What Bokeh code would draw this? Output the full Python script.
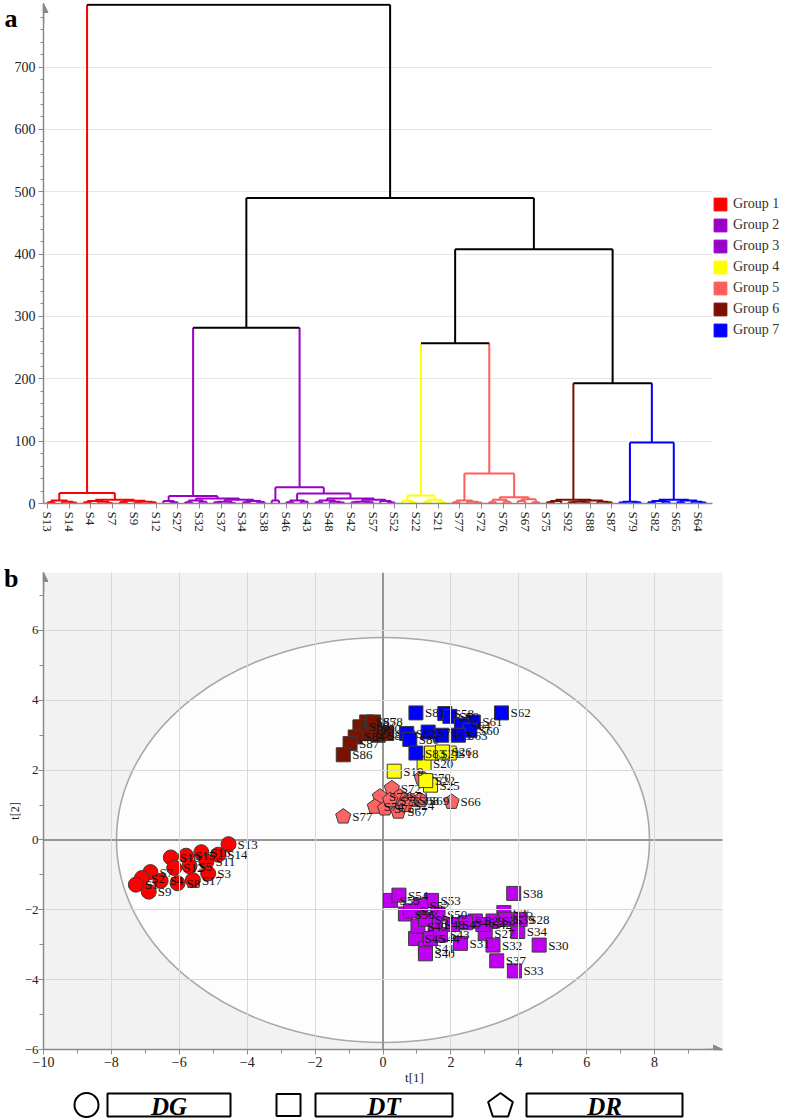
import math
from bokeh.plotting import figure
from bokeh.models import (Range1d, FixedTicker, Legend, LegendItem, Arrow,
                          NormalHead, LinearAxis)
from bokeh.layouts import column
from bokeh.embed import file_html
from bokeh.resources import INLINE
from bokeh.core.properties import value

SERIF = "Liberation Serif"
AXIS_GREY = "#8a8a8a"
LABEL_COL = "#222222"
NAN = float("nan")

# ====================== panel a : dendrogram data ======================
group_names = ["Group 1", "Group 2", "Group 3", "Group 4", "Group 5", "Group 6", "Group 7"]
group_colors = ["#ff0000", "#9b00c8", "#9b00c8", "#ffff00", "#ff5c5c", "#7b1000", "#0000ff"]
n_leaves = 92
tick_step = 3
leaf_tick_labels = ["S13", "S14", "S4", "S7", "S9", "S12", "S27", "S32", "S37", "S34", "S38",
                    "S46", "S43", "S48", "S42", "S57", "S52", "S22", "S21", "S77", "S72",
                    "S76", "S67", "S75", "S92", "S88", "S87", "S79", "S82", "S65", "S64"]
y_ticks_a = [0, 100, 200, 300, 400, 500, 600, 700]

# sub-trees per group: [merge height, left, right]; leaves are leaf indices
tree_g1 = [17, [5, [2, 0, 1], [3, 2, [1.5, 3, 4]]],
               [6, [4, [2, 5, 6], [3, 7, [1, 8, 9]]],
                   [4.5, [2.5, 10, 11], [3, [1.5, 12, 13], [2, 14, 15]]]]]
tree_g2 = [12, [4, 16, [2, 17, 18]],
               [8, [5, [2, 19, 20], [3, 21, 22]],
                   [6, [3, [2, 23, 24], [1, 25, 26]], [4, [2, 27, 28], [2.5, 29, 30]]]]]
tree_g3 = [26, [5, 31, 32],
               [16, [5, [2, 33, 34], [3, 35, 36]],
                    [8, [5, [2, 37, 38], [3, 39, [1.5, 40, 41]]],
                        [6, [3, [2, 42, 43], [2, 44, 45]], [4, 46, [1.5, 47, 48]]]]]]
tree_g4 = [13, [4, 49, [2, 50, 51]], [6, [3, 52, 53], [2, 54, 55]]]
tree_g5 = [48, [5, [2, 56, 57], [3, 58, [1.5, 59, 60]]],
               [10, [6, [2, 61, 62], [3, 63, 64]], [7, [4, 65, 66], [2, 67, 68]]]]
tree_g6 = [6, [4, [2, 69, 70], 71],
              [5, [3, [2, 72, 73], [1.5, 74, 75]], [3, 76, [2, 77, 78]]]]
tree_g7 = [98, [3, [1.5, 79, 80], [2, 81, 82]],
               [6, [4, [2, 83, 84], [3, 85, 86]], [5, [2, 87, 88], [3, 89, [1.5, 90, 91]]]]]

# between-group joins (black)
h_g2_g3 = 282
h_g4_g5 = 257
h_g6_g7 = 193
h_g45_g67 = 408
h_mid = 490
h_root = 800

full_tree = [h_root, ("G", 0, tree_g1),
             [h_mid, [h_g2_g3, ("G", 1, tree_g2), ("G", 2, tree_g3)],
                     [h_g45_g67, [h_g4_g5, ("G", 3, tree_g4), ("G", 4, tree_g5)],
                                 [h_g6_g7, ("G", 5, tree_g6), ("G", 6, tree_g7)]]]]

# ====================== panel b : score plot data ======================
g1_x = [-4.55, -4.85, -5.35, -5.2, -5.8, -6.25, -6.15, -5.7, -5.15, -6.85, -7.1, -7.28, -6.9, -6.55, -6.05, -5.6]
g1_y = [-0.12, -0.42, -0.35, -0.62, -0.45, -0.5, -0.8, -0.75, -0.96, -0.92, -1.09, -1.28, -1.48, -1.17, -1.24, -1.15]
g1_n = ["S13", "S14", "S16", "S11", "S15", "S10", "S12", "S5", "S3", "S7", "S2", "S1", "S9", "S4", "S8", "S17"]
g23_x = [3.85, 0.22, 0.47, 1.43, 1.10, 0.66, 1.62, 3.56, 2.72, 3.24, 3.97, 3.01, 4.60, 3.24, 2.28, 3.35,
         3.87, 0.96, 1.25, 1.25, 1.03, 1.54, 2.06, 2.43, 1.40, 1.69, 3.60, 0.81, 1.25, 2.94, 4.04]
g23_y = [-1.53, -1.73, -1.58, -1.73, -1.88, -2.12, -2.12, -2.08, -2.32, -2.32, -2.62, -2.67, -3.01, -3.01, -2.96, -3.46,
         -3.75, -2.82, -3.11, -3.26, -2.47, -2.42, -2.42, -2.37, -2.82, -2.72, -2.27, -2.03, -2.27, -2.42, -2.27]
g23_n = ["S38", "S55", "S54", "S53", "S52", "S56", "S50", "S35", "S29", "S36", "S34", "S27", "S30", "S32", "S31", "S37",
         "S33", "S45", "S41", "S40", "S49", "S48", "S47", "S46", "S44", "S43", "S39", "S57", "S51", "S42", "S28"]
g4_x = [0.33, 1.21, 1.43, 1.95, 1.40, 1.26, 1.75]
g4_y = [1.97, 2.19, 2.49, 2.49, 1.57, 1.70, 2.52]
g4_n = ["S19", "S20", "S21", "S18", "S25", "S22", "S26"]
g5_x = [-1.17, 2.02, 1.14, 0.26, -0.09, 0.50, -0.24, 0.06, 0.45, 1.09, 0.79, 0.21, 0.65]
g5_y = [0.67, 1.09, 1.78, 1.48, 1.24, 1.24, 0.95, 0.90, 0.81, 1.14, 1.14, 1.14, 1.00]
g5_n = ["S77", "S66", "S70", "S72", "S73", "S71", "S74", "S75", "S67", "S69", "S68", "S76", "S24"]
g6_x = [-0.48, -0.68, -0.33, -0.48, -0.82, -0.97, -1.17, -0.14, 0.11, -0.28]
g6_y = [3.38, 3.24, 3.19, 3.05, 2.95, 2.76, 2.44, 3.00, 3.05, 3.38]
g6_n = ["S85", "S89", "S90", "S91", "S84", "S87", "S86", "S88", "S92", "S78"]
g7_x = [0.97, 1.82, 1.97, 3.49, 2.66, 2.31, 2.56, 1.33, 1.73, 2.22, 0.70, 0.79, 0.97]
g7_y = [3.64, 3.62, 3.54, 3.64, 3.38, 3.29, 3.14, 3.09, 3.00, 3.00, 3.05, 2.88, 2.49]
g7_n = ["S81", "S58", "S59", "S62", "S61", "S64", "S60", "S79", "S65", "S63", "S82", "S80", "S83"]

scatter_colors = {"g1": "#ff0000", "g23": "#c000f0", "g4": "#ffff00", "g5": "#ff6464",
                  "g6": "#7a1200", "g7": "#0000ff"}
hotelling_rx = 7.85
hotelling_ry = 5.8
x_ticks_b = [-10, -8, -6, -4, -2, 0, 2, 4, 6, 8]
y_ticks_b = [-6, -4, -2, 0, 2, 4, 6]

legend_b_labels = ["DG", "DT", "DR"]

# ---------------- shared layout ----------------
FIG_W = 785
FRAME_L = 43            # all three frames share left/right edges (column alignment)


def style_axis(ax, fs):
    ax.axis_line_color = AXIS_GREY
    ax.axis_line_width = 1.5
    ax.major_tick_line_color = AXIS_GREY
    ax.minor_tick_line_color = AXIS_GREY
    ax.major_tick_out = 5
    ax.major_tick_in = 0
    ax.minor_tick_out = 3
    ax.minor_tick_in = 0
    ax.major_label_text_font = SERIF
    ax.major_label_text_font_size = fs
    ax.major_label_text_color = LABEL_COL


def panel_letter_axis(tick, letter, standoff):
    return LinearAxis(ticker=FixedTicker(ticks=[tick], minor_ticks=[]),
                      major_label_overrides={tick: letter},
                      axis_line_color=None, major_tick_line_color=None,
                      minor_tick_line_color=None, major_tick_out=0, major_tick_in=0,
                      minor_tick_out=0, minor_tick_in=0,
                      major_label_standoff=standoff, major_label_text_font=SERIF,
                      major_label_text_font_style="bold", major_label_text_font_size="26px",
                      major_label_text_color="black")


# ====================== figure a ======================
FA_H = 560
A_TOP, A_BOTTOM = 3, 57
leaf_px = 7.235                      # pixels per leaf slot
leaf0_px = 47                        # page x of first leaf
xa0 = -(leaf0_px - FRAME_L) / leaf_px
xa1 = (FIG_W - leaf0_px) / leaf_px
xa_axis_end = 91.9                   # where the dendrogram axis stops (page x ~712)
pa = figure(width=FIG_W, height=FA_H, output_backend="svg", toolbar_location=None,
            x_range=Range1d(xa0, xa1), y_range=Range1d(0, 802),
            min_border_left=FRAME_L, min_border_right=0,
            min_border_top=A_TOP, min_border_bottom=A_BOTTOM)
pa.outline_line_color = None
pa.background_fill_color = "white"

segs = {"x0": [], "y0": [], "x1": [], "y1": [], "c": []}


def add_seg(x0, y0, x1, y1, c):
    segs["x0"].append(x0)
    segs["y0"].append(y0)
    segs["x1"].append(x1)
    segs["y1"].append(y1)
    segs["c"].append(c)


def walk(node, color):
    if isinstance(node, tuple):
        _, gi, sub = node
        return walk(sub, group_colors[gi])
    if isinstance(node, int):
        return float(node), 0.0, color
    h, left, right = node
    xl, hl, cl = walk(left, color)
    xr, hr, cr = walk(right, color)
    add_seg(xl, hl, xl, h, cl)
    add_seg(xr, hr, xr, h, cr)
    add_seg(xl, h, xr, h, color)
    return (xl + xr) / 2.0, h, color


walk(full_tree, "#000000")
pa.segment(x0="x0", y0="y0", x1="x1", y1="y1", line_color="c", line_width=2, source=segs)

tick_idx = list(range(0, n_leaves, tick_step))
pa.xaxis.ticker = FixedTicker(ticks=tick_idx, minor_ticks=[])
pa.xaxis.major_label_overrides = {t: lab for t, lab in zip(tick_idx, leaf_tick_labels)}
pa.xaxis.major_label_orientation = -math.pi / 2
pa.xaxis.bounds = (xa0, xa_axis_end)
pa.yaxis.ticker = FixedTicker(ticks=y_ticks_a, minor_ticks=list(range(20, 800, 20)))
style_axis(pa.xaxis[0], "13px")
style_axis(pa.yaxis[0], "14px")
pa.xaxis.major_label_standoff = 3
pa.yaxis.major_label_standoff = 3
pa.xgrid.visible = False
pa.ygrid.ticker = FixedTicker(ticks=y_ticks_a[1:])
pa.ygrid.cross_bounds = (xa0, xa_axis_end)
pa.ygrid.grid_line_color = "#e6e6e6"

pa.add_layout(Arrow(end=NormalHead(size=9, fill_color=AXIS_GREY, line_color=AXIS_GREY),
                    x_start=xa0, y_start=770, x_end=xa0, y_end=802,
                    line_color=AXIS_GREY, line_width=1.5))
pa.add_layout(panel_letter_axis(778, "a", -6), "left")

items = []
for name, col in zip(group_names, group_colors):
    r = pa.quad(left=[NAN], right=[NAN], top=[NAN], bottom=[NAN], fill_color=col, line_color=col)
    items.append(LegendItem(label=name, renderers=[r]))
leg = Legend(items=items, location=(669, 165), padding=0, margin=0, spacing=5,
             glyph_width=16, glyph_height=16, label_height=16, label_standoff=5,
             label_text_font=SERIF, label_text_font_size="14px", label_text_color="#333333",
             background_fill_alpha=0, border_line_alpha=0)
pa.add_layout(leg)

# ====================== figure b ======================
FB_H = 528
B_TOP, B_BOTTOM = 12, 39
xb0, xb_end, yb0, yb1 = -10, 10, -6, 7.66
ppu_x = 33.95
xb1 = xb0 + (FIG_W - FRAME_L) / ppu_x
frame_bh = FB_H - B_TOP - B_BOTTOM
ppu_y = frame_bh / (yb1 - yb0)

pb = figure(width=FIG_W, height=FB_H, output_backend="svg", toolbar_location=None,
            x_range=Range1d(xb0, xb1), y_range=Range1d(yb0, yb1),
            min_border_left=FRAME_L, min_border_right=0,
            min_border_top=B_TOP, min_border_bottom=B_BOTTOM)
pb.outline_line_color = None
pb.background_fill_color = "white"

# grey plot area (axis range)
pb.quad(left=[xb0], right=[xb_end], bottom=[yb0], top=[yb1], fill_color="#f2f2f2", line_color=None)

pb.xaxis.ticker = FixedTicker(ticks=x_ticks_b, minor_ticks=list(range(-9, 10, 2)))
pb.yaxis.ticker = FixedTicker(ticks=y_ticks_b, minor_ticks=list(range(-5, 8, 2)))
pb.xaxis.bounds = (xb0, xb_end)
pb.xaxis.axis_label = "t[1]"
pb.yaxis.axis_label = "t[2]"
for ax in (pb.xaxis[0], pb.yaxis[0]):
    style_axis(ax, "14px")
    ax.minor_tick_out = 4
    ax.axis_label_text_font = SERIF
    ax.axis_label_text_font_style = "normal"
    ax.axis_label_text_font_size = "13px"
    ax.axis_label_text_color = LABEL_COL
pb.xaxis.major_label_standoff = 2
pb.xaxis.axis_label_standoff = 0
pb.yaxis.major_label_text_font_size = "13px"
pb.yaxis.major_label_standoff = 0
pb.yaxis.axis_label_standoff = 0
pb.yaxis.axis_label_text_font_size = "12px"
pb.xgrid.ticker = FixedTicker(ticks=[t for t in x_ticks_b if t not in (0, -10)])
pb.ygrid.ticker = FixedTicker(ticks=[t for t in y_ticks_b if t not in (0, -6)])
pb.ygrid.cross_bounds = (xb0, xb_end)
pb.xgrid.grid_line_color = "#d8d8d8"
pb.ygrid.grid_line_color = "#d8d8d8"
pb.xgrid.level = "glyph"
pb.ygrid.level = "glyph"
pb.add_layout(panel_letter_axis(7.5, "b", -14), "left")

pb.ellipse(x=[0], y=[0], width=[2 * hotelling_rx], height=[2 * hotelling_ry],
           fill_color="white", fill_alpha=0.82, line_color="#a8a8a8", line_width=1.6)
# centre lines t[1]=0 and t[2]=0 across the plot area
pb.segment(x0=[0, xb0], y0=[yb0, 0], x1=[0, xb_end], y1=[yb1, 0], line_color="#959595", line_width=2)


def pentagons(xs, ys, r_px, px_x, px_y):
    out_x, out_y = [], []
    for xc, yc in zip(xs, ys):
        vx, vy = [], []
        for k in range(5):
            a = math.radians(90 + 72 * k)
            vx.append(xc + r_px * math.cos(a) / px_x)
            vy.append(yc + r_px * math.sin(a) / px_y)
        out_x.append(vx)
        out_y.append(vy)
    return out_x, out_y


OUT = "#3a3a3a"
txt_kw = dict(x_offset=9, text_baseline="middle", text_align="left",
              text_font=value(SERIF), text_font_size="13px", text_color="#111111")

pb.scatter(g1_x, g1_y, marker="circle", size=15, fill_color=scatter_colors["g1"], line_color=OUT, line_width=1)
pb.text(g1_x, g1_y, text=g1_n, **txt_kw)
pb.scatter(g23_x, g23_y, marker="square", size=14, fill_color=scatter_colors["g23"], line_color=OUT, line_width=1)
pb.text(g23_x, g23_y, text=g23_n, **txt_kw)
px_, py_ = pentagons(g5_x, g5_y, 8.0, ppu_x, ppu_y)
pb.patches(px_, py_, fill_color=scatter_colors["g5"], line_color=OUT, line_width=1)
pb.text(g5_x, g5_y, text=g5_n, **txt_kw)
pb.scatter(g4_x, g4_y, marker="square", size=14, fill_color=scatter_colors["g4"], line_color=OUT, line_width=1)
pb.text(g4_x, g4_y, text=g4_n, **txt_kw)
pb.scatter(g6_x, g6_y, marker="square", size=14, fill_color=scatter_colors["g6"], line_color=OUT, line_width=1)
pb.text(g6_x, g6_y, text=g6_n, **txt_kw)
pb.scatter(g7_x, g7_y, marker="square", size=14, fill_color=scatter_colors["g7"], line_color=OUT, line_width=1)
pb.text(g7_x, g7_y, text=g7_n, **txt_kw)

pb.add_layout(Arrow(end=NormalHead(size=9, fill_color=AXIS_GREY, line_color=AXIS_GREY),
                    x_start=xb0, y_start=7.1, x_end=xb0, y_end=yb1,
                    line_color=AXIS_GREY, line_width=1.5))
pb.add_layout(Arrow(end=NormalHead(size=9, fill_color=AXIS_GREY, line_color=AXIS_GREY),
                    x_start=9.5, y_start=yb0, x_end=xb_end, y_end=yb0,
                    line_color=AXIS_GREY, line_width=1.5))

# ====================== figure c : marker key ======================
FC_H = 32
pc = figure(width=FIG_W, height=FC_H, output_backend="svg", toolbar_location=None,
            x_range=Range1d(FRAME_L, FIG_W), y_range=Range1d(0, FC_H),
            x_axis_type=None, y_axis_type=None,
            min_border_left=FRAME_L, min_border_right=0, min_border_top=0, min_border_bottom=0)
pc.outline_line_color = None
pc.grid.visible = False

key_mark_x = [86, 288, 500]
key_box_left = [107, 315, 526]
key_box_right = [230, 452, 682]
key_y = 15.5
key_h = 23

pc.scatter([key_mark_x[0]], [key_y], marker="circle", size=24, fill_color=None,
           line_color="black", line_width=2)
pc.rect([key_mark_x[1]], [key_y], width=24, height=22, fill_color=None,
        line_color="black", line_width=2)
kx, ky = pentagons([key_mark_x[2]], [key_y - 1], 13, 1.0, 1.0)
pc.patches(kx, ky, fill_color=None, line_color="black", line_width=2)
box_cx = [(a + b) / 2 for a, b in zip(key_box_left, key_box_right)]
box_w = [b - a for a, b in zip(key_box_left, key_box_right)]
pc.rect(box_cx, [key_y] * 3, width=box_w, height=key_h, fill_color="white",
        line_color="black", line_width=2)
pc.text(box_cx, [key_y] * 3, text=legend_b_labels, text_align="center", text_baseline="middle",
        text_font=value(SERIF), text_font_style="bold italic", text_font_size="25px",
        text_color="black", y_offset=1)

layout = column(pa, pb, pc)
open("out.html", "w").write(file_html(layout, INLINE, title="Dendrogram and score plot"))
